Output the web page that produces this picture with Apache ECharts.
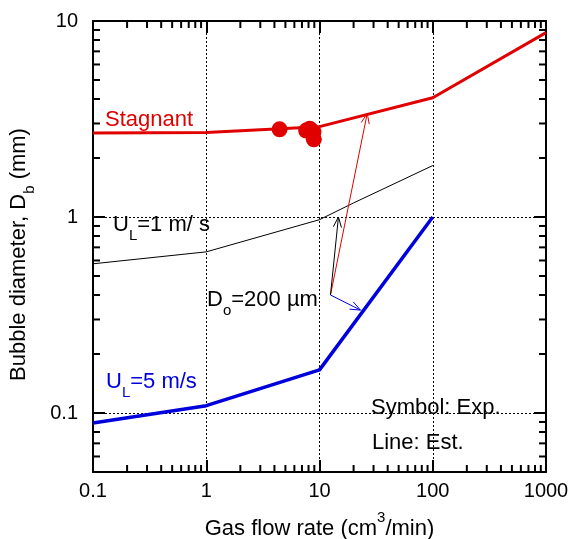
<!DOCTYPE html>
<html>
<head>
<meta charset="utf-8">
<script src="https://cdn.jsdelivr.net/npm/echarts@6/dist/echarts.min.js"></script>
<style>
    html, body { margin: 0; padding: 0; background: #fff; }
    #main { width: 572px; height: 539px; }
</style>
</head>
<body>
<div id="main"></div>
<script>
    // axis ranges and tick labels
    const xRange = [0.1, 1000]
    const yRange = [0.05, 10]
    const xTickLabels = ['0.1', '1', '10', '100', '1000']
    const yTickLabels = ['0.1', '1', '10']
    const xMinorTicks = [0.2, 0.3, 0.4, 0.5, 0.6, 0.7, 0.8, 0.9, 2, 3, 4, 5, 6, 7, 8, 9,
        20, 30, 40, 50, 60, 70, 80, 90, 200, 300, 400, 500, 600, 700, 800, 900]
    const yMinorTicks = [0.06, 0.07, 0.08, 0.09, 0.2, 0.3, 0.4, 0.5, 0.6, 0.7, 0.8, 0.9,
        2, 3, 4, 5, 6, 7, 8, 9]

    // estimated lines
    const stagnantX = [0.1, 1, 10, 100, 1000]
    const stagnantY = [2.68, 2.70, 2.89, 4.06, 8.72]
    const ul1X = [0.1, 1, 10, 20, 100]
    const ul1Y = [0.577, 0.664, 0.969, 1.18, 1.83]
    const ul5X = [0.1, 1, 10, 100]
    const ul5Y = [0.089, 0.109, 0.166, 1.0]

    // experimental points (stagnant)
    const expX = [4.44, 7.63, 8.2, 8.85, 8.91]
    const expY = [2.80, 2.76, 2.82, 2.72, 2.49]

    // D_o = 200 um arrows
    const arrowFrom = [[12.5, 0.40], [12.5, 0.40], [12.5, 0.40]]
    const arrowTo = [[26.4, 3.38], [14.7, 1.0], [23.0, 0.335]]
    const arrowColors = ['#e00000', '#000000', '#0000dd']

    const RED = '#e00000'
    const BLUE = '#0000dd'
    const FONT = 'Liberation Sans, Arial, sans-serif'

    const zip = (a, b) => a.map((v, i) => [v, b[i]])

    function decadeLabel(labels, min) {
        return function (v) {
            const e = Math.log10(v)
            const r = Math.round(e)
            if (Math.abs(e - r) > 1e-6) return ''
            const idx = r - Math.round(Math.log10(min))
            return labels[idx] || ''
        }
    }

    // rich styles: main text sits on top, subscript is pushed below the baseline
    function subRich(color) {
        return {
            m: { fontSize: 22, fontFamily: FONT, color: color, fill: color, verticalAlign: 'top' },
            sub: { fontSize: 15, fontFamily: FONT, color: color, fill: color, verticalAlign: 'top', padding: [14, 0, 0, 0] }
        }
    }

    function label(left, top, text, color) {
        return {
            type: 'text', left: left, top: top,
            style: { text: text, fill: color, font: '22px ' + FONT, rich: subRich(color) }
        }
    }

    const chart = echarts.init(document.getElementById('main'))

    const baseX = {
        type: 'log',
        logBase: 10,
        min: xRange[0],
        max: xRange[1],
        axisLine: { show: true, onZero: false, lineStyle: { color: '#000', width: 2 } },
        axisTick: { inside: true, length: 12, lineStyle: { color: '#000', width: 2 } },
        minorTick: { show: false }
    }
    const baseY = {
        type: 'log',
        logBase: 10,
        min: yRange[0],
        max: yRange[1],
        axisLine: { show: true, onZero: false, lineStyle: { color: '#000', width: 2 } },
        axisTick: { inside: true, length: 12, lineStyle: { color: '#000', width: 2 } },
        minorTick: { show: false }
    }

    const option = {
        animation: false,
        grid: { left: 93, right: 26, top: 21, bottom: 67, containLabel: false, outerBoundsMode: 'none' },
        xAxis: [
            Object.assign({}, baseX, {
                position: 'bottom',
                name: '{m|Gas flow rate (cm}{sup|3}{m|/min)}',
                nameLocation: 'middle',
                nameGap: 38,
                nameTextStyle: {
                    color: '#000', fontSize: 22, fontFamily: FONT,
                    rich: {
                        m: { fontSize: 22, fontFamily: FONT, color: '#000', verticalAlign: 'top', padding: [8, 0, 0, 0] },
                        sup: { fontSize: 15, fontFamily: FONT, color: '#000', verticalAlign: 'top' }
                    }
                },
                axisLabel: { color: '#000', fontSize: 20, fontFamily: FONT, margin: 9, formatter: decadeLabel(xTickLabels, xRange[0]) },
                splitLine: { show: true, lineStyle: { color: '#000', type: [2, 2], width: 1 } }
            }),
            Object.assign({}, baseX, {
                position: 'top',
                axisLabel: { show: false },
                splitLine: { show: false }
            })
        ],
        yAxis: [
            Object.assign({}, baseY, {
                position: 'left',
                name: '{m|Bubble diameter, D}{sub|b}{m| (mm)}',
                nameLocation: 'middle',
                nameGap: 56,
                nameRotate: 90,
                nameTextStyle: {
                    color: '#000', fontSize: 22, fontFamily: FONT,
                    padding: [0, 16, 0, 0],
                    rich: subRich('#000')
                },
                axisLabel: { color: '#000', fontSize: 20, fontFamily: FONT, margin: 15, formatter: decadeLabel(yTickLabels, 0.1) },
                splitLine: { show: true, lineStyle: { color: '#000', type: [2, 2], width: 1 } }
            }),
            Object.assign({}, baseY, {
                position: 'right',
                axisLabel: { show: false },
                splitLine: { show: false }
            })
        ],
        series: [
            {
                name: 'minor x ticks',
                type: 'custom',
                clip: false,
                silent: true,
                data: xMinorTicks.map(v => [v, yRange[0]]),
                renderItem: function (params, api) {
                    const x = api.value(0)
                    const b = api.coord([x, yRange[0]])
                    const t = api.coord([x, yRange[1]])
                    const st = { stroke: '#000', lineWidth: 2 }
                    return {
                        type: 'group',
                        children: [
                            { type: 'line', shape: { x1: b[0], y1: b[1], x2: b[0], y2: b[1] - 7 }, style: st },
                            { type: 'line', shape: { x1: t[0], y1: t[1], x2: t[0], y2: t[1] + 7 }, style: st }
                        ]
                    }
                }
            },
            {
                name: 'minor y ticks',
                type: 'custom',
                clip: false,
                silent: true,
                data: yMinorTicks.map(v => [xRange[0], v]),
                renderItem: function (params, api) {
                    const y = api.value(1)
                    const l = api.coord([xRange[0], y])
                    const r = api.coord([xRange[1], y])
                    const st = { stroke: '#000', lineWidth: 2 }
                    return {
                        type: 'group',
                        children: [
                            { type: 'line', shape: { x1: l[0], y1: l[1], x2: l[0] + 7, y2: l[1] }, style: st },
                            { type: 'line', shape: { x1: r[0], y1: r[1], x2: r[0] - 7, y2: r[1] }, style: st }
                        ]
                    }
                }
            },
            {
                name: 'Stagnant',
                type: 'line',
                data: zip(stagnantX, stagnantY),
                showSymbol: false,
                lineStyle: { color: RED, width: 3 },
                z: 3
            },
            {
                name: 'UL=1',
                type: 'line',
                data: zip(ul1X, ul1Y),
                showSymbol: false,
                lineStyle: { color: '#000', width: 1 },
                z: 3
            },
            {
                name: 'UL=5',
                type: 'line',
                data: zip(ul5X, ul5Y),
                showSymbol: false,
                lineStyle: { color: BLUE, width: 3.5 },
                z: 3
            },
            {
                name: 'Exp',
                type: 'scatter',
                data: zip(expX, expY),
                symbol: 'circle',
                symbolSize: 16,
                itemStyle: { color: RED, opacity: 1 },
                z: 4
            },
            {
                name: 'arrows',
                type: 'custom',
                clip: false,
                silent: true,
                encode: { x: [0, 2], y: [1, 3] },
                data: arrowFrom.map((f, i) => [f[0], f[1], arrowTo[i][0], arrowTo[i][1]]),
                renderItem: function (params, api) {
                    const p0 = api.coord([api.value(0), api.value(1)])
                    const p1 = api.coord([api.value(2), api.value(3)])
                    const color = arrowColors[params.dataIndex]
                    const a = Math.atan2(p1[1] - p0[1], p1[0] - p0[0])
                    const len = 11, spread = 0.38
                    const h1 = [p1[0] - len * Math.cos(a - spread), p1[1] - len * Math.sin(a - spread)]
                    const h2 = [p1[0] - len * Math.cos(a + spread), p1[1] - len * Math.sin(a + spread)]
                    const st = { stroke: color, lineWidth: 1, fill: null }
                    return {
                        type: 'group',
                        children: [
                            { type: 'line', shape: { x1: p0[0], y1: p0[1], x2: p1[0], y2: p1[1] }, style: st },
                            { type: 'polyline', shape: { points: [h1, p1, h2] }, style: st }
                        ]
                    }
                },
                z: 5
            }
        ],
        graphic: [
            label(105, 109, '{m|Stagnant}', RED),
            label(113, 214, '{m|U}{sub|L}{m|=1 m/ s}', '#000'),
            label(207, 289, '{m|D}{sub|o}{m|=200 \u00b5m}', '#000'),
            label(106, 371, '{m|U}{sub|L}{m|=5 m/s}', BLUE),
            label(371, 397, '{m|Symbol: Exp.}', '#000'),
            label(372, 432, '{m|Line: Est.}', '#000')
        ]
    }

    chart.setOption(option)
</script>
</body>
</html>
